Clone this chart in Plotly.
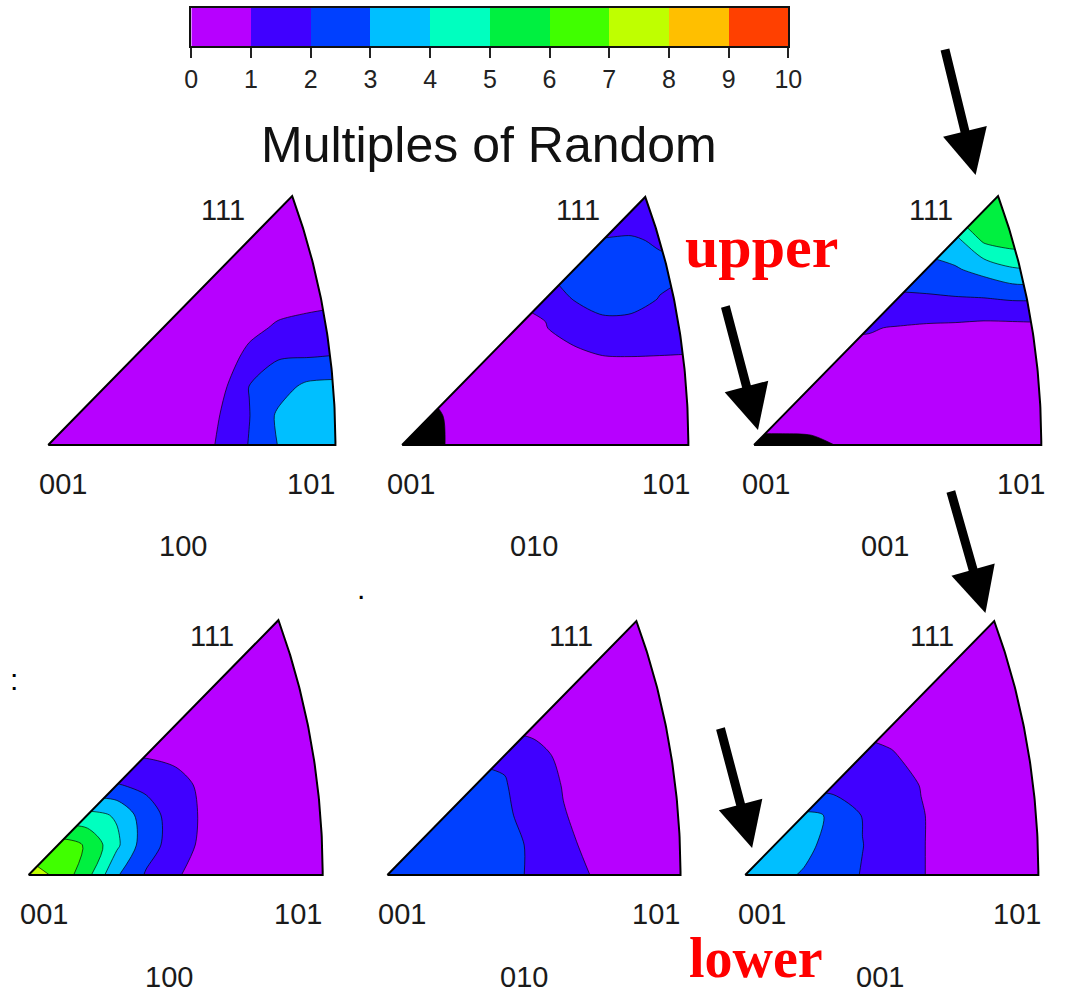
import numpy as np
import plotly.graph_objects as go

W, H = 1070, 993

# ---------------- data ----------------
mrd_ticks = list(range(0, 11))
band_colors = ['#B700FF', '#4000FF', '#0040FF', '#00BFFF', '#00FFBF',
               '#00F040', '#40FF00', '#BFFF00', '#FFBF00', '#FF4000']
below_color = '#000000'

# grid nodes inside each inverse pole figure (001 -> 101 normalised to 1)
grid_x = [0.0, 0.1, 0.2, 0.3, 0.4, 0.5, 0.6, 0.7, 0.8, 0.9, 1.0]
grid_y = [0.0, 0.1, 0.2, 0.3, 0.4, 0.5, 0.6, 0.7, 0.8, 0.9]

upper_100 = [
    [0.5, 0.5, 0.5, 0.5, 0.5, 0.6, 1.1, 2.05, 3.02, 3.4, 3.6],
    [0.5, 0.5, 0.5, 0.5, 0.5, 0.6, 1.02, 1.97, 3.15, 3.5, 3.6],
    [0.5, 0.5, 0.5, 0.5, 0.5, 0.55, 0.7, 2.02, 2.6, 3.2, 3.3],
    [0.5, 0.5, 0.5, 0.5, 0.5, 0.5, 0.6, 1.2, 1.93, 1.98, 2.05],
    [0.5, 0.5, 0.5, 0.5, 0.5, 0.5, 0.5, 0.8, 1.1, 1.2, 1.3],
    [0.5, 0.5, 0.5, 0.5, 0.5, 0.5, 0.5, 0.55, 0.7, 0.8, 0.85],
    [0.5] * 11, [0.5] * 11, [0.5] * 11, [0.5] * 11,
]
upper_010 = [
    [-0.5, -0.3, 0.3, 0.5, 0.5, 0.5, 0.5, 0.5, 0.5, 0.5, 0.5],
    [-0.5, -0.3, 0.4, 0.5, 0.5, 0.5, 0.5, 0.5, 0.5, 0.5, 0.5],
    [0.3, 0.3, 0.5, 0.55, 0.55, 0.55, 0.55, 0.55, 0.55, 0.55, 0.55],
    [0.5, 0.5, 0.5, 0.5, 0.55, 0.6, 0.8, 0.95, 0.98, 0.97, 0.95],
    [0.7, 0.7, 0.7, 0.7, 0.7, 0.97, 1.3, 1.75, 1.7, 1.45, 1.4],
    [1.1, 1.1, 1.1, 1.1, 1.1, 1.1, 2.05, 2.3, 2.3, 1.97, 1.7],
    [2.1, 2.1, 2.1, 2.1, 2.1, 2.1, 2.1, 2.5, 2.5, 2.2, 2.1],
    [2.05, 2.05, 2.05, 2.05, 2.05, 2.05, 2.05, 2.05, 2.1, 1.9, 1.8],
    [1.5, 1.5, 1.5, 1.5, 1.5, 1.5, 1.5, 1.5, 1.5, 1.4, 1.3],
    [1.4, 1.4, 1.4, 1.4, 1.4, 1.4, 1.4, 1.4, 1.4, 1.4, 1.3],
]
upper_001 = [
    [-0.5, -0.5, -0.4, 0.1, 0.4, 0.5, 0.5, 0.5, 0.5, 0.5, 0.5],
    [0.8, 0.8, 0.8, 0.8, 0.7, 0.6, 0.6, 0.6, 0.6, 0.6, 0.6],
    [0.7, 0.7, 0.7, 0.7, 0.7, 0.7, 0.7, 0.7, 0.7, 0.7, 0.7],
    [0.85, 0.85, 0.85, 0.85, 0.8, 0.8, 0.8, 0.8, 0.75, 0.75, 0.8],
    [1.05, 1.05, 1.05, 1.05, 1.05, 0.95, 0.85, 0.8, 0.7, 0.7, 0.75],
    [1.85, 1.85, 1.85, 1.85, 1.85, 1.85, 1.9, 1.93, 1.97, 2.1, 2.1],
    [2.5, 2.5, 2.5, 2.5, 2.5, 2.5, 2.5, 2.9, 3.35, 3.9, 4.0],
    [3.7, 3.7, 3.7, 3.7, 3.7, 3.7, 3.7, 3.7, 5.2, 5.5, 5.5],
    [5.5, 5.5, 5.5, 5.5, 5.5, 5.5, 5.5, 5.5, 5.5, 5.6, 5.5],
    [5.6, 5.6, 5.6, 5.6, 5.6, 5.6, 5.6, 5.6, 5.6, 5.6, 5.5],
]
lower_100 = [
    [7.5, 6.8, 5.3, 3.1, 1.9, 1.1, 0.6, 0.5, 0.5, 0.5, 0.5],
    [6.5, 6.5, 5.9, 4.2, 2.4, 1.6, 0.7, 0.5, 0.5, 0.5, 0.5],
    [4.3, 4.3, 4.3, 3.9, 2.4, 1.6, 0.8, 0.5, 0.5, 0.5, 0.5],
    [2.05, 2.05, 2.05, 2.05, 1.8, 1.3, 0.8, 0.5, 0.5, 0.5, 0.5],
    [0.9, 0.9, 0.9, 0.9, 0.9, 0.8, 0.7, 0.5, 0.5, 0.5, 0.5],
    [0.5] * 11, [0.5] * 11, [0.5] * 11, [0.5] * 11, [0.5] * 11,
]
lower_010 = [
    [2.8, 2.6, 2.5, 2.4, 2.2, 1.9, 1.5, 0.95, 0.6, 0.5, 0.5],
    [2.6, 2.6, 2.5, 2.4, 2.2, 1.9, 1.2, 0.8, 0.6, 0.5, 0.5],
    [2.4, 2.4, 2.4, 2.3, 2.1, 1.77, 1.05, 0.7, 0.55, 0.5, 0.5],
    [2.2, 2.2, 2.2, 2.2, 2.05, 1.6, 0.95, 0.65, 0.5, 0.5, 0.5],
    [1.9, 1.9, 1.9, 1.9, 1.9, 1.3, 0.8, 0.6, 0.5, 0.5, 0.5],
    [0.75, 0.75, 0.75, 0.75, 0.75, 0.75, 0.6, 0.5, 0.5, 0.5, 0.5],
    [0.5] * 11, [0.5] * 11, [0.5] * 11, [0.5] * 11,
]
lower_001 = [
    [3.6, 3.3, 2.9, 2.4, 1.95, 1.5, 1.05, 0.7, 0.55, 0.5, 0.5],
    [3.5, 3.5, 3.3, 2.6, 2.02, 1.5, 1.05, 0.7, 0.55, 0.5, 0.5],
    [3.2, 3.2, 3.2, 2.9, 1.95, 1.5, 1.05, 0.7, 0.55, 0.5, 0.5],
    [1.6, 1.6, 1.6, 1.6, 1.6, 1.4, 0.97, 0.7, 0.5, 0.5, 0.5],
    [1.25, 1.25, 1.25, 1.25, 1.25, 1.05, 0.8, 0.6, 0.5, 0.5, 0.5],
    [0.8, 0.8, 0.8, 0.8, 0.8, 0.8, 0.6, 0.5, 0.5, 0.5, 0.5],
    [0.5] * 11, [0.5] * 11, [0.5] * 11, [0.5] * 11,
]

corner_labels = ['001', '101', '111']
panel_titles = ['100', '010', '001', '100', '010', '001']
panel_grids = [upper_100, upper_010, upper_001, lower_100, lower_010, lower_001]

# ---------------- layout geometry (pixels) ----------------
# origin (001 corner) and scale (px per unit, 001->101 = 1)
panel_geo = [(42, 445, 293), (403, 445, 292), (762, 445, 293),
             (22, 875, 300), (388, 875, 299), (753, 875, 299)]
label_pos = [  # 001, 101, 111, title
    ((57, 484), (310, 484), (220, 210), (180, 546)),
    ((412, 484), (672, 484), (582, 210), (538, 546)),
    ((774, 484), (1034, 484), (943, 210), (896, 546)),
    ((38, 914), (297, 914), (209, 636), (165, 977)),
    ((403, 914), (662, 914), (575, 636), (527, 977)),
    ((770, 914), (1030, 914), (944, 636), (890, 977)),
]
XR = [-0.03, 1.03]
YR = [-0.03, 0.93]


def proj(d):
    d = np.asarray(d, float)
    d = d / np.linalg.norm(d)
    f = np.sqrt(2.0 / (1.0 + d[2]))
    return d[0] * f, d[1] * f


X101 = proj([1, 0, 1])[0]


def nproj(d):
    x, y = proj(d)
    return x / X101, y / X101


arc = np.array([nproj([1, t, 1]) for t in np.linspace(0, 1, 80)])
p111 = nproj([1, 1, 1])

# contour colour scale: background(<0)=black, bands 0..10, >10 red
cols = [below_color] + band_colors + [band_colors[-1]]
contour_scale = [[j / 11.0, c] for j, c in enumerate(cols)]

fig = go.Figure()
LABEL_FONT = dict(family='Liberation Sans, Arial, sans-serif', size=29, color='#1a1a1a')
annotations = []

for k, (grid, (ox, oy, s)) in enumerate(zip(panel_grids, panel_geo)):
    n = k + 1
    xa = 'x' if n == 1 else f'x{n}'
    ya = 'y' if n == 1 else f'y{n}'
    fig.add_trace(go.Contour(
        x=grid_x, y=grid_y, z=grid, xaxis=xa, yaxis=ya,
        autocontour=False,
        contours=dict(start=0, end=10, size=1, coloring='fill', showlines=True),
        line=dict(color='rgba(0,0,0,0.85)', width=0.8, smoothing=0.8),
        colorscale=contour_scale, showscale=False, hoverinfo='skip'))
    # white masks outside the triangle
    top = YR[1] + 0.2
    mx = [0, p111[0], p111[0] + 0.04, p111[0] + 0.04, XR[0] - 0.2, XR[0] - 0.2, 0]
    my = [0, p111[1], p111[1], top, top, 0, 0]
    fig.add_trace(go.Scatter(x=mx, y=my, xaxis=xa, yaxis=ya, mode='lines',
                             fill='toself', fillcolor='white', line=dict(width=0),
                             hoverinfo='skip', showlegend=False))
    bx = list(arc[:, 0]) + [p111[0], p111[0], XR[1] + 0.2, XR[1] + 0.2, 1.0]
    by = list(arc[:, 1]) + [p111[1], top, top, 0, 0]
    fig.add_trace(go.Scatter(x=bx, y=by, xaxis=xa, yaxis=ya, mode='lines',
                             fill='toself', fillcolor='white', line=dict(width=0),
                             hoverinfo='skip', showlegend=False))
    ox_ = [0, 1.0] + list(arc[:, 0]) + [0]
    oy_ = [0, 0.0] + list(arc[:, 1]) + [0]
    fig.add_trace(go.Scatter(x=ox_, y=oy_, xaxis=xa, yaxis=ya, mode='lines',
                             line=dict(color='black', width=2),
                             hoverinfo='skip', showlegend=False))
    xd = [(ox + s * XR[0]) / W, (ox + s * XR[1]) / W]
    yd = [(H - (oy - s * YR[0])) / H, (H - (oy - s * YR[1])) / H]
    fig.update_layout(**{
        ('xaxis' if n == 1 else f'xaxis{n}'): dict(domain=xd, range=XR, visible=False,
                                                   fixedrange=True, anchor=ya),
        ('yaxis' if n == 1 else f'yaxis{n}'): dict(domain=yd, range=YR, visible=False,
                                                   fixedrange=True, anchor=xa),
    })
    pos = label_pos[k]
    for txt, (px, py) in zip(corner_labels + [panel_titles[k]], pos):
        annotations.append(dict(text=txt, x=px / W, y=1 - py / H, xref='paper', yref='paper',
                                showarrow=False, xanchor='center', yanchor='middle',
                                font=LABEL_FONT))

# ---------------- colour bar (own axes) ----------------
cb_centers = [t + 0.5 for t in mrd_ticks[:-1]]
cb_scale = []
for i, c in enumerate(band_colors):
    cb_scale += [[i / 10.0, c], [(i + 1) / 10.0, c]]
fig.add_trace(go.Heatmap(x=cb_centers, y=[0], z=[cb_centers], zmin=0, zmax=10,
                         colorscale=cb_scale, showscale=False, xaxis='x7', yaxis='y7',
                         hoverinfo='skip'))
fig.update_layout(
    xaxis7=dict(domain=[188 / W, 797 / W], range=[0, 10], anchor='y7',
                tickvals=mrd_ticks, ticktext=[str(t) for t in mrd_ticks],
                ticks='outside', ticklen=10, tickwidth=1.5, tickcolor='#222',
                tickfont=dict(family='Liberation Sans, Arial, sans-serif', size=25, color='#222'),
                showline=True, mirror=True, linecolor='#111', linewidth=2,
                showgrid=False, zeroline=False, fixedrange=True),
    yaxis7=dict(domain=[(H - 46) / H, (H - 8) / H], range=[-0.5, 0.5], anchor='x7',
                showticklabels=False, ticks='', showline=True, mirror=True,
                linecolor='#111', linewidth=2, showgrid=False, zeroline=False,
                fixedrange=True),
)
annotations.append(dict(text='Multiples of Random', x=492 / W, y=1 - 145 / H,
                        xref='paper', yref='paper', showarrow=False,
                        xanchor='center', yanchor='middle',
                        font=dict(family='Liberation Sans, Arial, sans-serif', size=50,
                                  color='#111')))

# ---------------- red labels, arrows, stray marks ----------------
annotations.append(dict(text='<b>upper</b>', x=770 / W, y=1 - 247 / H, xref='paper',
                        yref='paper', showarrow=False, xanchor='center', yanchor='middle',
                        font=dict(family='Liberation Serif, Times New Roman, serif',
                                  size=60, color='#FF0000')))
annotations.append(dict(text='<b>lower</b>', x=764 / W, y=1 - 958 / H, xref='paper',
                        yref='paper', showarrow=False, xanchor='center', yanchor='middle',
                        font=dict(family='Liberation Serif, Times New Roman, serif',
                                  size=56, color='#FF0000')))
arrows = [((957, 48), (988, 175)), ((733, 305), (766, 430)),
          ((963, 490), (998, 613)), ((728, 727), (760, 848))]
for (tx, ty), (hx, hy) in arrows:
    annotations.append(dict(text='', x=hx / W, y=1 - hy / H, xref='paper', yref='paper',
                            ax=tx - hx, ay=ty - hy, showarrow=True, arrowhead=2,
                            arrowsize=1.0, arrowwidth=9, arrowcolor='black', standoff=0))
annotations.append(dict(text='.', x=361 / W, y=1 - 588 / H, xref='paper', yref='paper',
                        showarrow=False, font=dict(family='Liberation Sans', size=30,
                                                   color='black')))
annotations.append(dict(text=':', x=1 / W, y=1 - 698 / H, xref='paper', yref='paper',
                        showarrow=False, font=dict(family='Liberation Sans', size=30,
                                                   color='black')))

fig.update_layout(width=W, height=H, margin=dict(l=0, r=0, t=0, b=0),
                  paper_bgcolor='white', plot_bgcolor='white', showlegend=False,
                  annotations=annotations)
fig.write_html('out.html')
